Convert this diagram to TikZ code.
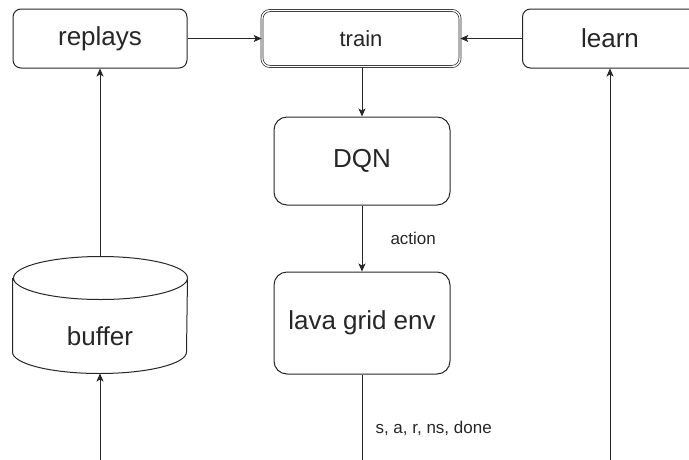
\documentclass[tikz,border=0pt]{standalone}
\usepackage{fontspec}
\setmainfont{Liberation Sans}
\usetikzlibrary{positioning,arrows.meta}

\begin{document}
\begin{tikzpicture}[x=1pt,y=-1pt,line width=1pt,color=black!85,
    bigfont/.style={font=\fontsize{26}{30}\selectfont},
    box/.style={draw,rounded corners=8pt,minimum width=174pt,minimum height=59pt,inner sep=0pt,bigfont},
    trainbox/.style={box,double,double distance=1.4pt,line width=0.7pt,minimum width=198pt,minimum height=56pt,font=\fontsize{22}{26}\selectfont},
    bigbox/.style={box,rounded corners=13pt,minimum width=176pt},
    arr/.style={-{Stealth[length=8pt,width=7pt,inset=2pt]}},
    lbl/.style={inner sep=0pt,font=\fontsize{17}{20}\selectfont}]
    \useasboundingbox (0,0) rectangle (689,459);

    % top row
    \node[box] (replays) at (100,38.5) {replays};
    \node[trainbox] (train) at (361,38.5) {train};
    \node[box,minimum width=175pt] (learn) at (610,38.5) {learn};

    % middle column
    \node[bigbox,minimum height=88pt] (dqn) at (362,161) {DQN};
    \node[bigbox,minimum height=102pt] (lava) at (362,323) {lava grid env};

    % replay memory, cylinder drawn round the node
    \node[minimum width=174pt,minimum height=116pt,inner sep=0pt,
          label={[bigfont,yshift=-21pt]center:buffer}] (buffer) at (100,315) {};
    \draw ([yshift=-21.5pt]buffer.north west)
        -- ([yshift=21.5pt]buffer.south west)
        arc[start angle=180,end angle=360,x radius=87pt,y radius=21.5pt]
        -- ([yshift=-21.5pt]buffer.north east)
        arc[start angle=0,end angle=180,x radius=87pt,y radius=21.5pt]
        arc[start angle=180,end angle=360,x radius=87pt,y radius=21.5pt];

    % loose ends below the picture
    \coordinate (bufin) at (100,482);
    \coordinate (envout) at (362,482);
    \coordinate (learnin) at (610,482);

    \draw[arr] (replays) -- (train);
    \draw[arr] (learn) -- (train);
    \draw[arr] (train.south -| dqn.north) -- (dqn.north);
    \draw[arr] (dqn) -- node[lbl,right=28pt] {action} (lava);
    \draw (lava) -- node[lbl,right=13pt] {s, a, r, ns, done} (envout);
    \draw[arr] (buffer) -- (replays);
    \draw[arr] (bufin) -- (buffer);
    \draw[arr] (learnin) -- (learn);
\end{tikzpicture}
\end{document}
